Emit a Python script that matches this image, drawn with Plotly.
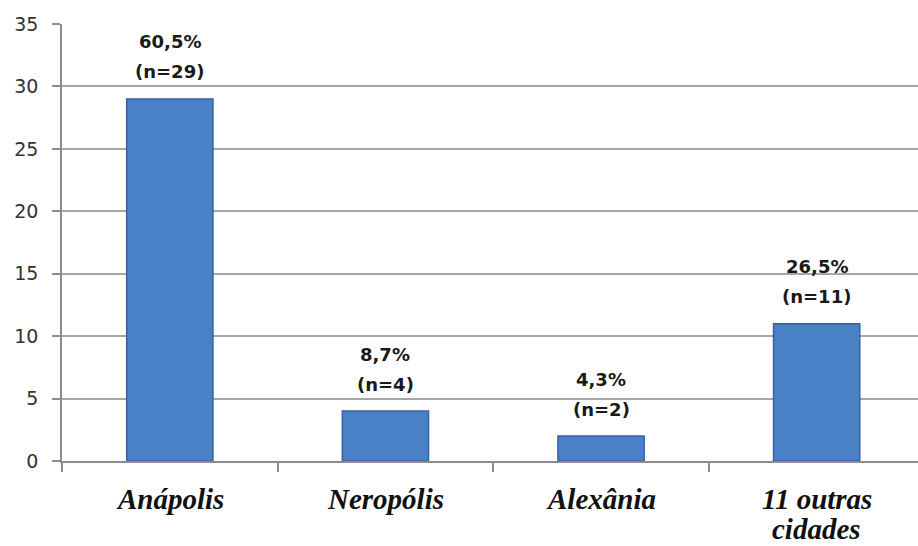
import plotly.graph_objects as go

# City counts with their share of the total
cities = ["Anápolis", "Neropólis", "Alexânia", "11 outras<br>cidades"]
counts = [29, 4, 2, 11]
percents = ["60,5%", "8,7%", "4,3%", "26,5%"]
y_ticks = [0, 5, 10, 15, 20, 25, 30, 35]

label_font = dict(family="DejaVu Sans", size=18, color="#1a1a1a")
city_font = dict(family="Liberation Serif", size=29, color="#111111")

fig = go.Figure()
fig.add_trace(go.Bar(
    x=cities,
    y=counts,
    width=0.4,
    marker=dict(color="#4a80c6", line=dict(color="#3563a0", width=1.5)),
    hoverinfo="skip",
))

annotations = []
for city, n, pct in zip(cities, counts, percents):
    # Two-line value labels above each bar
    annotations.append(dict(x=city, y=n, text=f"<b>(n={n})</b>", showarrow=False,
                            yanchor="middle", yshift=27, font=label_font))
    annotations.append(dict(x=city, y=n, text=f"<b>{pct}</b>", showarrow=False,
                            yanchor="middle", yshift=57, font=label_font))
    # Category names under the axis, one annotation per line for tight spacing
    for i, line in enumerate(city.split("<br>")):
        annotations.append(dict(x=city, y=0, text=f"<b><i>{line}</i></b>", showarrow=False,
                                yanchor="middle", yshift=-38 - 30 * i, font=city_font))

fig.update_layout(
    width=918, height=546,
    margin=dict(l=62, r=0, t=24, b=85),
    paper_bgcolor="white", plot_bgcolor="white",
    showlegend=False,
    annotations=annotations,
    bargap=0.6,
)
fig.update_xaxes(
    range=[-0.5, 3.47],
    automargin=False,
    showticklabels=False,
    showline=True, linecolor="#8c8c8c", linewidth=1.5,
    ticks="outside", tickson="boundaries", ticklen=9, tickcolor="#8c8c8c", tickwidth=1.5,
)
fig.update_yaxes(
    range=[0, 35], tickvals=y_ticks,
    automargin=False,
    showgrid=True, gridcolor="#a6a6a6", gridwidth=1.5,
    showline=True, linecolor="#8c8c8c", linewidth=1.5,
    ticks="outside", ticklen=8, tickcolor="#8c8c8c", tickwidth=1.5,
    tickfont=dict(family="DejaVu Sans", size=19, color="#333333"),
    ticklabelstandoff=10,
    zeroline=False,
)

fig.write_html("out.html")
